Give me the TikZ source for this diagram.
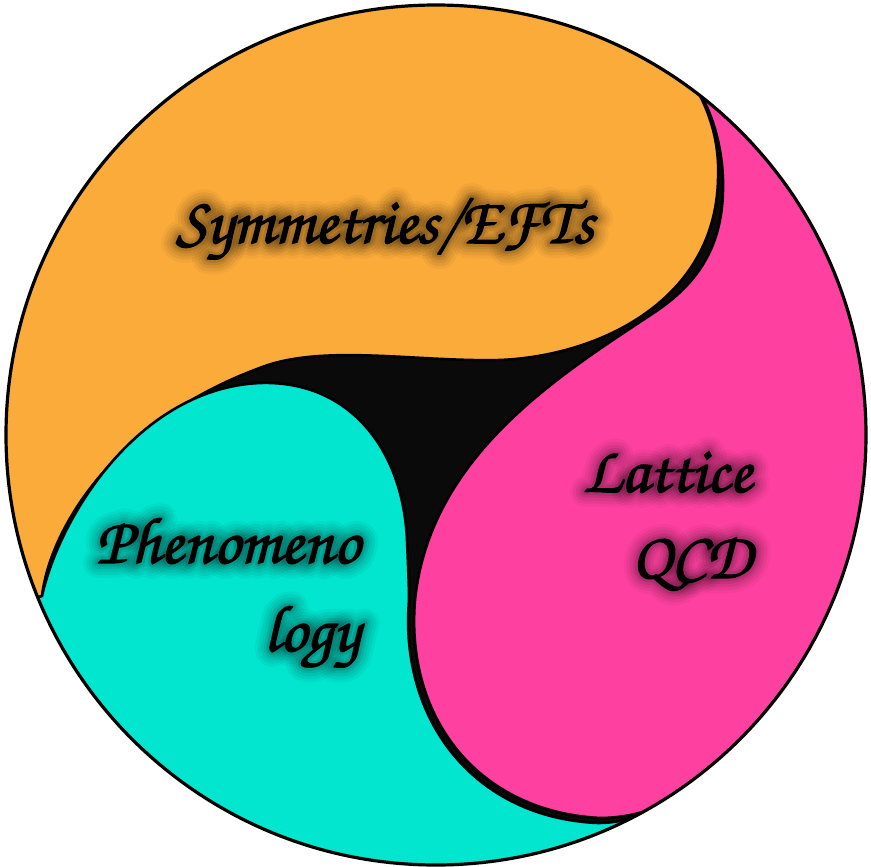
\documentclass[tikz,border=0pt]{standalone}
\usepackage[T1]{fontenc}
\usetikzlibrary{calc}
\definecolor{tomoeOrange}{HTML}{FBAB3A}
\definecolor{tomoePink}{HTML}{FE41A0}
\definecolor{tomoeCyan}{HTML}{02E6CF}
\definecolor{tomoeInk}{HTML}{0A0A0A}
\newcommand{\chancery}{\fontfamily{pzc}\fontseries{mb}\fontshape{it}\fontsize{66}{76}\selectfont}
\newcommand{\textpaint}[2]{\special{pdf:literal direct #1 Tr #2 w 1 j}}
% name, anchor, position, text
\newcommand{\glowlabel}[4]{%
  \foreach \w/\o in {30/0.04,24/0.05,18/0.06,12/0.08,7/0.1}
    \node[label text, anchor=#2, opacity=\o] at (#3) {\textpaint{1}{\w}#4};
  \node[label text, anchor=#2] (#1) at (#3) {\textpaint{2}{1.3}#4};}

\begin{document}
\begin{tikzpicture}[x=1pt, y=-1pt,
    region/.style={draw=black, line width=2.6pt},
    label text/.style={inner sep=0pt, text=black, font=\chancery}]
  \useasboundingbox (0,0) rectangle (871,867);
  \coordinate (oc) at (42,596);
  \coordinate (op) at (697,90);
  \coordinate (cp) at (660,806);
  \begin{scope}
    \clip (436,435) circle[radius=430];
    \fill[tomoeInk] (436,435) circle[radius=430];
    % orange swirl
    \filldraw[region, fill=tomoeOrange] (oc) .. controls (50,528) and (116,418) .. (268,365)
      .. controls (330,345) and (420,362) .. (500,360)
      .. controls (600,356) and (715,300) .. (718,180)
      .. controls (720,140) and (708,110) .. (op)
      -- (700,-20) -- (-20,-20) -- (-20,620) -- cycle;
    % pink swirl
    \filldraw[region, fill=tomoePink] (op) .. controls (712,110) and (724,150) .. (723,190)
      .. controls (722,250) and (695,285) .. (655,312)
      .. controls (560,375) and (430,455) .. (415,600)
      .. controls (405,720) and (480,812) .. (600,818)
      .. controls (625,818) and (645,812) .. (cp)
      -- (680,900) -- (900,900) -- (900,-20) -- (700,-20) -- cycle;
    % cyan swirl
    \filldraw[region, fill=tomoeCyan] (oc) .. controls (60,515) and (140,388) .. (260,383)
      .. controls (350,380) and (403,450) .. (407,540)
      .. controls (408,565) and (409,585) .. (409,600)
      .. controls (399,722) and (476,818) .. (598,823)
      .. controls (625,823) and (645,814) .. (cp)
      -- (680,900) -- (-20,900) -- (-20,620) -- cycle;
  \end{scope}
  \draw[line width=3.2pt] (436,435) circle[radius=430];

  \glowlabel{sym}{base}{385,243}{Symmetries/EFTs}
  \glowlabel{phen}{base east}{360,563}{Phenomeno}
  \glowlabel{logy}{base east}{360,651}{logy}
  \glowlabel{latt}{base east}{752,492}{Lattice}
  \glowlabel{qcd}{base east}{752,578}{QCD}
\end{tikzpicture}
\end{document}
